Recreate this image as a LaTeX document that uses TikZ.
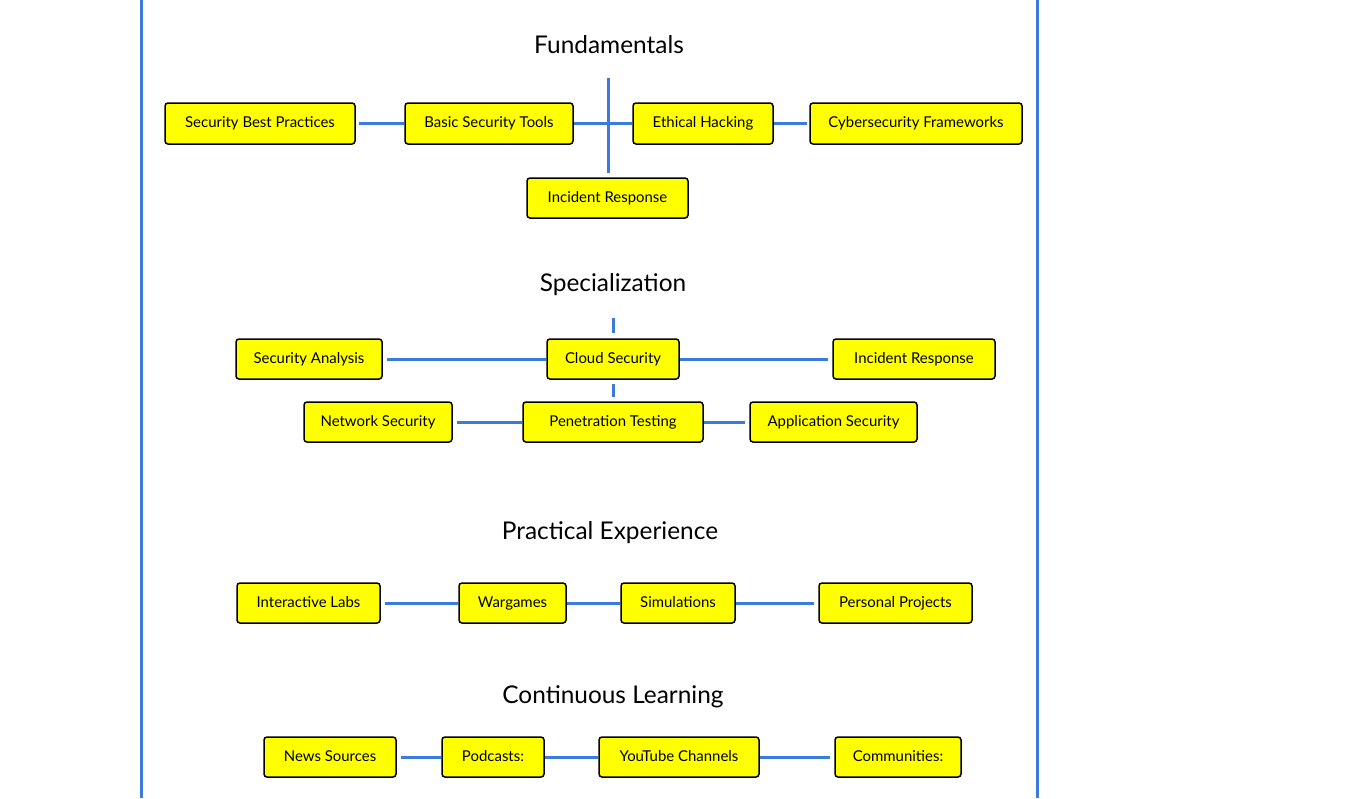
\documentclass[tikz,border=0pt]{standalone}
\usepackage{fontspec}
\setmainfont{Lato}
\definecolor{lineblue}{HTML}{3A7BE0}
\definecolor{boxyellow}{HTML}{FFFF00}
\begin{document}
\begin{tikzpicture}[x=1bp,y=-1bp,
  box/.style={draw=black,line width=1.5bp,fill=boxyellow,rounded corners=3bp,inner sep=0pt,text height=11bp,text depth=3bp,font=\fontsize{15}{17}\selectfont},
  ttl/.style={font=\fontsize{24.5}{28}\selectfont,inner sep=0pt},
  conn/.style={draw=lineblue,line width=3bp}]
\useasboundingbox[fill=white] (0,0) rectangle (1371,798);
% frame lines
\coordinate (fl1) at (141,0); \coordinate (fl2) at (141,798);
\coordinate (fr1) at (1037,0); \coordinate (fr2) at (1037,798);
\draw[conn] (fl1) -- (fl2);
\draw[conn] (fr1) -- (fr2);
% Fundamentals
\node[ttl] (t1) at (609,45) {Fundamentals};
\node[box,minimum width=190bp,minimum height=41bp] (sbp) at (260,123.5) {Security Best Practices};
\node[box,minimum width=168bp,minimum height=41bp] (bst) at (489,123.5) {Basic Security Tools};
\node[box,minimum width=140bp,minimum height=41bp] (eh) at (703,123.5) {Ethical Hacking};
\node[box,minimum width=212bp,minimum height=41bp] (cf) at (916,123.5) {Cybersecurity Frameworks};
\node[box,minimum width=161bp,minimum height=40bp] (ir1) at (607.5,198) {Incident Response};
\coordinate (vtop) at (608,78);
\draw[conn,shorten <=3bp] (sbp) -- (bst);
\draw[conn] (bst) -- (eh);
\draw[conn,shorten >=2bp] (eh) -- (cf);
\draw[conn,shorten >=4bp] (vtop) -- (vtop |- ir1.north);
% Specialization
\node[ttl] (t2) at (613,285) {Specialization};
\node[box,minimum width=146bp,minimum height=40bp] (sa) at (309,359) {Security Analysis};
\node[box,minimum width=132bp,minimum height=40bp] (cs) at (613,359) {Cloud Security};
\node[box,minimum width=162bp,minimum height=40bp] (ir2) at (914,359) {Incident Response};
\node[box,minimum width=148bp,minimum height=40bp] (ns) at (378,422) {Network Security};
\node[box,minimum width=180bp,minimum height=40bp] (pt) at (613,422) {Penetration Testing};
\node[box,minimum width=167bp,minimum height=40bp] (as) at (833.5,422) {Application Security};
\coordinate (cstop) at (613,318);
\draw[conn,shorten <=4bp] (sa) -- (cs);
\draw[conn,shorten >=4bp] (cs) -- (ir2);
\draw[conn,shorten >=5bp] (cstop) -- (cs.north);
\draw[conn,shorten <=4bp,shorten >=4bp] (cs.south) -- (pt.north);
\draw[conn,shorten <=4bp] (ns) -- (pt);
\draw[conn,shorten >=4bp] (pt) -- (as);
% Practical Experience
\node[ttl] (t3) at (610,533) {Practical Experience};
\node[box,minimum width=143bp,minimum height=40bp] (il) at (308.5,603) {Interactive Labs};
\node[box,minimum width=107bp,minimum height=40bp] (wg) at (512.5,603) {Wargames};
\node[box,minimum width=114bp,minimum height=40bp] (sim) at (678,603) {Simulations};
\node[box,minimum width=153bp,minimum height=40bp] (pp) at (895.5,603) {Personal Projects};
\draw[conn,shorten <=4bp] (il) -- (wg);
\draw[conn] (wg) -- (sim);
\draw[conn,shorten >=4bp] (sim) -- (pp);
% Continuous Learning
\node[ttl] (t4) at (613,697) {Continuous Learning};
\node[box,minimum width=132bp,minimum height=40bp] (nws) at (330,757) {News Sources};
\node[box,minimum width=102bp,minimum height=40bp] (pod) at (493,757) {Podcasts:};
\node[box,minimum width=160bp,minimum height=40bp] (yt) at (679,757) {YouTube Channels};
\node[box,minimum width=126bp,minimum height=40bp] (com) at (898,757) {Communities:};
\draw[conn,shorten <=4bp] (nws) -- (pod);
\draw[conn] (pod) -- (yt);
\draw[conn,shorten >=4bp] (yt) -- (com);
\end{tikzpicture}
\end{document}
